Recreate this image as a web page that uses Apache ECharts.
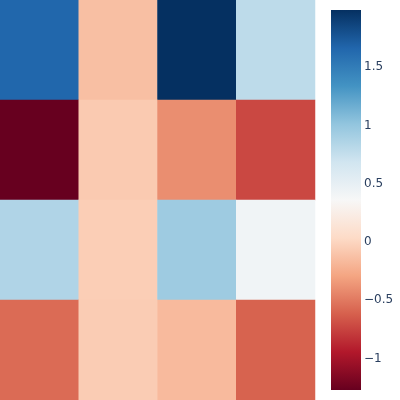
<!DOCTYPE html>
<html>
<head>
<meta charset="utf-8">
<script src="https://cdn.jsdelivr.net/npm/echarts@6/dist/echarts.min.js"></script>
<style>
  html, body { margin: 0; padding: 0; background: #fff; }
  #main { width: 400px; height: 400px; }
</style>
</head>
<body>
<div id="main"></div>
<script>
// 4x4 grid, rows top to bottom, columns left to right
var rowNames = ['r0', 'r1', 'r2', 'r3'];
var colNames = ['c0', 'c1', 'c2', 'c3'];
var cellValues = [
  [1.66, -0.135, 1.99, 0.79],
  [-1.27, -0.069, -0.40, -0.727],
  [0.856, -0.044, 0.95, 0.42],
  [-0.566, -0.057, -0.165, -0.605]
];
var colorMin = -1.27;
var colorMax = 1.99;
// RdBu
var colorStops = ['#67001f', '#b2182b', '#d6604d', '#f4a582', '#fddbc7', '#f7f7f7',
                  '#d1e5f0', '#92c5de', '#4393c3', '#2166ac', '#053061'];

var heatData = [];
for (var r = 0; r < rowNames.length; r++) {
  for (var c = 0; c < colNames.length; c++) {
    heatData.push([c, r, cellValues[r][c]]);
  }
}

// colorbar gradient, top = max
var barGradient = colorStops.map(function (col, i) {
  return { offset: 1 - i / (colorStops.length - 1), color: col };
}).reverse();

function fmtTick(v) {
  if (Math.abs(v * 2 - Math.round(v * 2)) > 1e-6) return '';
  if (Math.abs(v) < 1e-9) return '0';
  return v < 0 ? '\u2212' + String(-v) : String(v);
}

var chart = echarts.init(document.getElementById('main'));
chart.setOption({
  animation: false,
  backgroundColor: '#fff',
  grid: [
    { left: 0, top: 0, right: 85, bottom: 0 },
    { left: 331, top: 10, width: 30, height: 380 }
  ],
  xAxis: [
    { type: 'category', data: colNames, show: false, gridIndex: 0 },
    { type: 'value', show: false, gridIndex: 1 }
  ],
  yAxis: [
    { type: 'category', data: rowNames, inverse: true, show: false, gridIndex: 0 },
    {
      type: 'value', gridIndex: 1, position: 'right',
      min: colorMin, max: colorMax,
      axisLine: { show: false }, axisTick: { show: false }, splitLine: { show: false },
      axisLabel: {
        margin: 3, color: '#2a3f5f', fontSize: 12, fontFamily: 'DejaVu Sans',
        showMinLabel: false, showMaxLabel: false,
        formatter: fmtTick
      }
    }
  ],
  visualMap: {
    type: 'continuous',
    show: false,
    min: colorMin, max: colorMax,
    seriesIndex: 0, dimension: 2,
    inRange: { color: colorStops }
  },
  graphic: [{
    type: 'rect',
    left: 331, top: 10,
    shape: { width: 30, height: 380 },
    style: {
      fill: new echarts.graphic.LinearGradient(0, 0, 0, 1, barGradient)
    },
    silent: true
  }],
  series: [{
    type: 'heatmap',
    xAxisIndex: 0, yAxisIndex: 0,
    data: heatData,
    emphasis: { disabled: true },
    itemStyle: { borderWidth: 0 }
  }]
});
</script>
</body>
</html>
